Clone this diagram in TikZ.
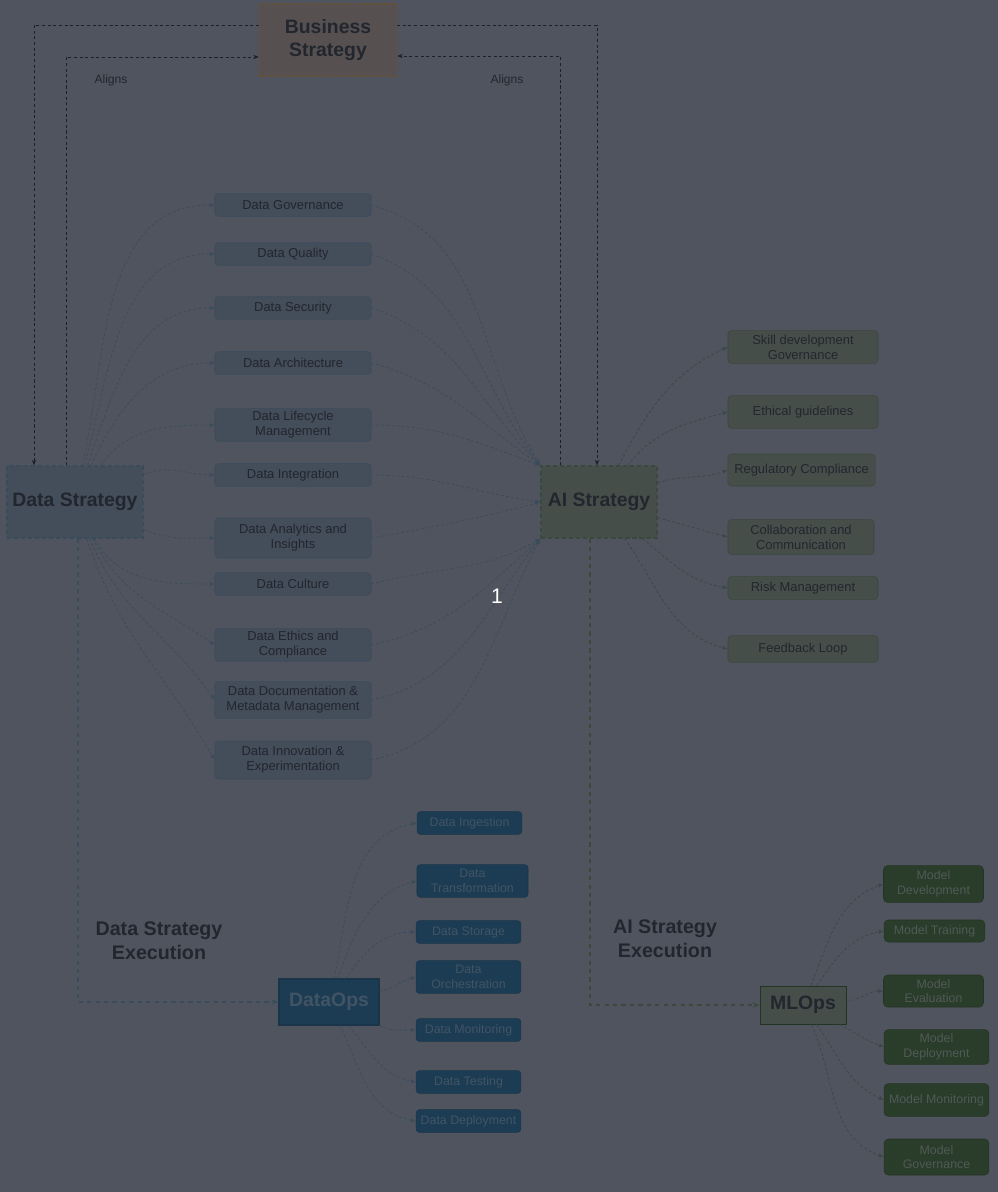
\documentclass[tikz,border=0pt]{standalone}
\usepackage{fontspec}
\setmainfont{Liberation Sans}
\usetikzlibrary{positioning,arrows.meta,calc}
\definecolor{SlateBg}{RGB}{80,84,94}
\definecolor{InkDark}{RGB}{34,38,46}
\definecolor{DataFill}{RGB}{68,77,90}
\definecolor{DataEdge}{RGB}{58,76,92}
\definecolor{AIFill}{RGB}{70,78,74}
\definecolor{AIEdge}{RGB}{58,72,62}
\definecolor{BizFill}{RGB}{86,81,80}
\definecolor{BizEdge}{RGB}{100,80,50}
\definecolor{OpsFill}{RGB}{28,60,84}
\definecolor{OpsEdge}{RGB}{26,52,74}
\definecolor{OpsText}{RGB}{66,84,100}
\definecolor{ModelFill}{RGB}{42,60,42}
\definecolor{ModelEdge}{RGB}{36,52,36}
\definecolor{ModelText}{RGB}{80,90,86}
\definecolor{DataLink}{RGB}{58,76,92}
\definecolor{AILink}{RGB}{60,72,68}
\definecolor{BizLink}{RGB}{30,32,38}

\begin{document}
\begin{tikzpicture}[x=0.025cm, y=-0.025cm,
  every node/.style={font=\fontsize{9.2}{10.8}\selectfont, align=center, text=InkDark},
  hub/.style={draw, dash pattern=on 3pt off 2pt, line width=0.9pt, inner sep=2pt,
    font=\fontsize{13.8}{16.5}\selectfont\bfseries},
  datatopic/.style={draw=DataEdge, fill=DataFill, rounded corners=2.5pt,
    minimum width=3.9cm, minimum height=0.57cm, inner sep=2pt},
  aitopic/.style={draw=AIEdge, fill=AIFill, rounded corners=2.5pt,
    minimum width=3.75cm, minimum height=0.57cm, inner sep=2pt},
  opstopic/.style={draw=OpsEdge, fill=OpsFill, rounded corners=2.5pt, text=OpsText,
    font=\fontsize{8.8}{10.5}\selectfont, minimum width=2.62cm, minimum height=0.57cm, inner sep=1.5pt},
  modeltopic/.style={draw=ModelEdge, fill=ModelFill, rounded corners=3pt, text=ModelText,
    font=\fontsize{8.8}{10.5}\selectfont, minimum width=2.5cm, minimum height=0.55cm, inner sep=1.5pt},
  bizlink/.style={draw=BizLink, dash pattern=on 2.2pt off 1.8pt, line width=0.6pt, -{Stealth[length=4pt]}},
  datalink/.style={draw=DataLink, dash pattern=on 2pt off 1.6pt, line width=0.55pt, -{Latex[length=3.5pt,width=3pt]}},
  ailink/.style={draw=AILink, dash pattern=on 2pt off 1.6pt, line width=0.55pt, -{Latex[length=3.5pt,width=3pt]}},
  execlink/.style={dash pattern=on 3pt off 3pt, line width=0.9pt, -{Stealth[length=5pt]}}]

  \useasboundingbox[fill=SlateBg] (0,0) rectangle (998,1192);

  % strategy hubs
  \node[hub, draw=BizEdge, fill=BizFill, minimum width=3.425cm, minimum height=1.8cm] (bs) at (328,40)
    {Business\\Strategy};
  \node[hub, draw=DataEdge, fill=DataFill, minimum width=3.4cm, minimum height=1.8cm] (ds) at (75,502)
    {Data Strategy};
  \node[hub, draw=AIEdge, fill=AIFill, minimum width=2.9cm, minimum height=1.8cm] (ai) at (599,502)
    {AI Strategy};

  \node[font=\fontsize{8.6}{10}\selectfont] (al1) at (111,80) {Aligns};
  \node[font=\fontsize{8.6}{10}\selectfont] (al2) at (507,80) {Aligns};

  \draw[bizlink] ([yshift=0.375cm]bs.west) -| ([xshift=-1.025cm]ds.north);
  \draw[bizlink] ([xshift=-0.225cm]ds.north) |- ([yshift=-0.425cm]bs.west);
  \draw[bizlink] ([yshift=0.375cm]bs.east) -| ([xshift=-0.05cm]ai.north);
  \draw[bizlink] ([xshift=-0.975cm]ai.north) |- ([yshift=-0.4cm]bs.east);

  % data strategy topics
  \node[datatopic] (gov) at (293,205) {Data Governance};
  \node[datatopic] (qual) at (293,254) {Data Quality};
  \node[datatopic] (sec) at (293,308) {Data Security};
  \node[datatopic] (arch) at (293,363) {Data Architecture};
  \node[datatopic, minimum height=0.82cm] (life) at (293,425) {Data Lifecycle\\Management};
  \node[datatopic] (integ) at (293,475) {Data Integration};
  \node[datatopic, minimum height=1cm] (anly) at (293,538) {Data Analytics and\\Insights};
  \node[datatopic] (cult) at (293,584) {Data Culture};
  \node[datatopic, minimum height=0.82cm] (eth) at (293,645) {Data Ethics and\\Compliance};
  \node[datatopic, minimum height=0.92cm] (doc) at (293,700) {Data Documentation \&\\Metadata Management};
  \node[datatopic, minimum height=0.95cm] (innov) at (293,760) {Data Innovation \&\\Experimentation};

  \draw[datalink] (ds) to[out=78, in=180] (gov.west);
  \draw[datalink] (ds) to[out=75, in=180] (qual.west);
  \draw[datalink] (ds) to[out=71, in=180] (sec.west);
  \draw[datalink] (ds) to[out=66, in=180] (arch.west);
  \draw[datalink] (ds) to[out=55, in=180] (life.west);
  \draw[datalink] (ds) to[out=22, in=180] (integ.west);
  \draw[datalink] (ds) to[out=-22, in=180] (anly.west);
  \draw[datalink] (ds) to[out=-62, in=180] (cult.west);
  \draw[datalink] (ds) to[out=-64, in=145] (eth.west);
  \draw[datalink] (ds) to[out=-68, in=125] (doc.west);
  \draw[datalink] (ds) to[out=-72, in=120] (innov.west);

  \draw[datalink] (gov.east) to[out=-15, in=122] (ai.north west);
  \draw[datalink] (qual.east) to[out=-20, in=128] (ai.north west);
  \draw[datalink] (sec.east) to[out=-18, in=135] (ai.north west);
  \draw[datalink] (arch.east) to[out=-15, in=145] (ai.north west);
  \draw[datalink] (life.east) to[out=0, in=160] (ai.north west);
  \draw[datalink] (integ.east) to[out=0, in=172] (ai.west);
  \draw[datalink] (anly.east) to[out=10, in=195] (ai.west);
  \draw[datalink] (cult.east) to[out=15, in=210] (ai.south west);
  \draw[datalink] (eth.east) to[out=12, in=222] (ai.south west);
  \draw[datalink] (doc.east) to[out=12, in=232] (ai.south west);
  \draw[datalink] (innov.east) to[out=12, in=242] (ai.south west);

  % ai strategy topics
  \node[aitopic, minimum height=0.82cm] (skill) at (803,347) {Skill development\\Governance};
  \node[aitopic, minimum height=0.82cm] (ethic) at (803,412) {Ethical guidelines};
  \node[aitopic, minimum width=3.68cm, minimum height=0.8cm] (reg) at (801.5,470) {Regulatory Compliance};
  \node[aitopic, minimum width=3.65cm, minimum height=0.87cm] (collab) at (801,537) {Collaboration and\\Communication};
  \node[aitopic] (risk) at (803,588) {Risk Management};
  \node[aitopic, minimum height=0.67cm] (feed) at (803,649) {Feedback Loop};

  \draw[ailink] (ai) to[out=62, in=205] (skill.west);
  \draw[ailink] (ai) to[out=52, in=195] (ethic.west);
  \draw[ailink] (ai) to[out=18, in=200] (reg.west);
  \draw[ailink] (ai) to[out=-15, in=165] (collab.west);
  \draw[ailink] (ai) to[out=-40, in=170] (risk.west);
  \draw[ailink] (ai) to[out=-55, in=165] (feed.west);

  % execution
  \node[font=\fontsize{14}{17}\selectfont\bfseries] (dsx) at (159,941) {Data Strategy\\Execution};
  \node[font=\fontsize{14}{17}\selectfont\bfseries] (aix) at (665,939) {AI Strategy\\Execution};

  \node[hub, draw=OpsEdge, fill=OpsFill, text=OpsText, solid, minimum width=2.5cm, minimum height=1.15cm] (ops) at (329,1002)
    {DataOps};
  \node[hub, draw=ModelEdge, fill=AIFill, solid, line width=0.6pt, minimum width=2.15cm, minimum height=0.95cm] (mlops) at (803,1005)
    {MLOps};

  \draw[execlink, DataEdge] ([xshift=0.075cm]ds.south) |- (ops.west);
  \draw[execlink, AIEdge] ([xshift=-0.225cm]ai.south) |- (mlops.west);

  % dataops topics
  \node[opstopic] (ingest) at (469.5,823) {Data Ingestion};
  \node[opstopic, minimum width=2.78cm, minimum height=0.82cm] (trans) at (472.5,881) {Data\\Transformation};
  \node[opstopic] (store) at (468.5,932) {Data Storage};
  \node[opstopic, minimum height=0.82cm] (orch) at (468.5,977) {Data\\Orchestration};
  \node[opstopic] (monit) at (468.5,1030) {Data Monitoring};
  \node[opstopic] (test) at (468.5,1082) {Data Testing};
  \node[opstopic] (deploy) at (468.5,1121) {Data Deployment};

  \draw[datalink] (ops) to[out=78, in=190] (ingest.west);
  \draw[datalink] (ops) to[out=70, in=195] (trans.west);
  \draw[datalink] (ops) to[out=55, in=180] (store.west);
  \draw[datalink] (ops) to[out=12, in=195] (orch.west);
  \draw[datalink] (ops) to[out=-25, in=180] (monit.west);
  \draw[datalink] (ops) to[out=-50, in=170] (test.west);
  \draw[datalink] (ops) to[out=-65, in=170] (deploy.west);

  % mlops topics
  \node[modeltopic, minimum height=0.92cm] (mdev) at (933.5,884) {Model\\Development};
  \node[modeltopic, minimum width=2.52cm] (mtrain) at (934.5,931) {Model Training};
  \node[modeltopic, minimum height=0.8cm] (meval) at (933.5,991) {Model\\Evaluation};
  \node[modeltopic, minimum width=2.62cm, minimum height=0.87cm] (mdep) at (936.5,1047) {Model\\Deployment};
  \node[modeltopic, minimum width=2.62cm, minimum height=0.82cm] (mmon) at (936.5,1100) {Model Monitoring};
  \node[modeltopic, minimum width=2.62cm, minimum height=0.9cm] (mgov) at (936.5,1157) {Model\\Governance};

  \draw[ailink] (mlops) to[out=68, in=200] (mdev.west);
  \draw[ailink] (mlops) to[out=55, in=190] (mtrain.west);
  \draw[ailink] (mlops) to[out=5, in=180] (meval.west);
  \draw[ailink] (mlops) to[out=-28, in=160] (mdep.west);
  \draw[ailink] (mlops) to[out=-55, in=155] (mmon.west);
  \draw[ailink] (mlops) to[out=-66, in=160] (mgov.west);

  \node[text=white, font=\fontsize{15}{18}\selectfont] (mark) at (497,596) {1};
\end{tikzpicture}
\end{document}
